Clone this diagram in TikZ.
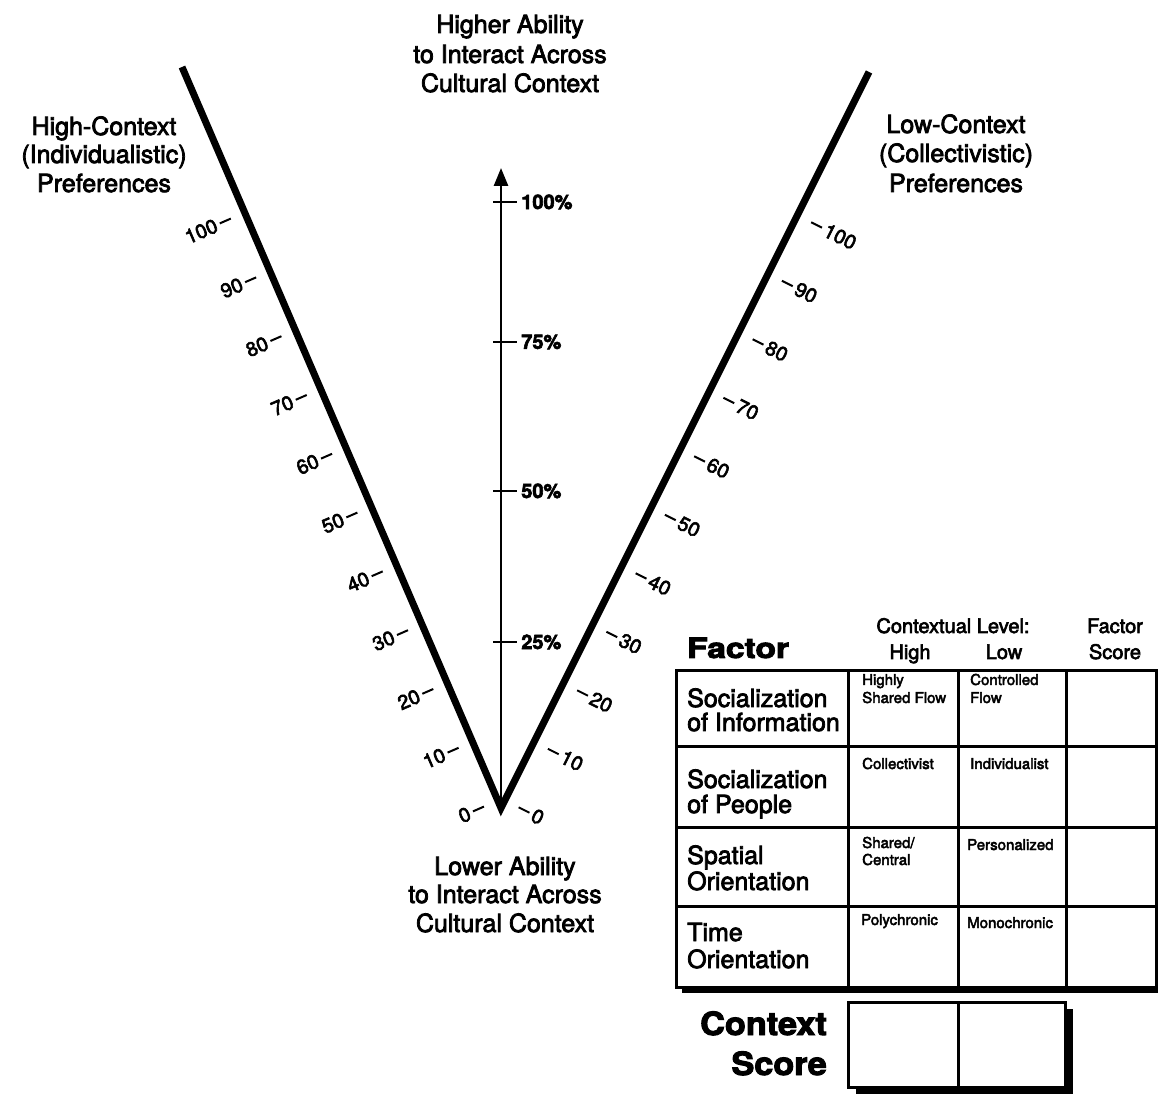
\documentclass[tikz,border=0pt]{standalone}
\usepackage{fontspec}
\setmainfont{TeX Gyre Heros}
\newfontfamily\medfont{TeX Gyre Heros}[FakeBold=3]
\newfontfamily\heavyfont{TeX Gyre Heros}[FakeBold=3]
\usetikzlibrary{arrows.meta,calc}
\begin{document}
\begin{tikzpicture}[x=1pt,y=1pt,
  arm/.style={line width=7pt,line join=miter,miter limit=10},
  axisline/.style={line width=2.6pt},
  armtick/.style={line width=2pt},
  axtick/.style={line width=2.6pt},
  bigtxt/.style={font=\medfont\fontsize{25}{30}\selectfont, anchor=base, inner sep=0pt},
  ticklbl/.style={font=\medfont\fontsize{20}{20}\selectfont, inner sep=0pt},
  pctlbl/.style={font=\heavyfont\bfseries\fontsize{20}{20}\selectfont, anchor=west, inner sep=0pt},
  gridline/.style={line width=3pt},
  rowlbl/.style={font=\medfont\fontsize{25}{25}\selectfont, anchor=base west, inner sep=0pt},
  celltxt/.style={font=\medfont\fontsize{15}{15}\selectfont, anchor=base west, inner sep=0pt},
  headtxt/.style={font=\medfont\fontsize{20}{20}\selectfont, anchor=base, inner sep=0pt},
  heavytxt/.style={font=\heavyfont\bfseries\fontsize{32}{32}\selectfont, inner sep=0pt}
]
\useasboundingbox (0,0) rectangle (1158,1095);
\fill[white] (0,0) rectangle (1158,1095);

% ---- V chart ----
\coordinate (V) at (501,287);
\coordinate (L) at (182,1028);
\coordinate (R) at (869,1023);
\coordinate (Atip) at (501,927);
\draw[axisline,-{Triangle[length=18pt,width=14pt]}] (V) -- (Atip);
\draw[arm] (L) -- (V) -- (R);

% axis ticks
\foreach \p/\Y in {100/893,75/753,50/604,25/453} {
  \draw[axtick] (493,\Y) -- (517,\Y) node[pctlbl, xshift=3pt] (pct\p) {\p\%};
}

% left arm ticks
\foreach \k in {0,10,...,100} {
  \pgfmathsetmacro\Yt{286+5.88*\k}
  \pgfmathsetmacro\Xc{501-0.4305*(\Yt-287)-23}
  \coordinate (lt\k) at (\Xc,\Yt);
  \draw[armtick] ($(lt\k)+(-5.5,-2.4)$) -- ($(lt\k)+(5.5,2.4)$);
  \node[ticklbl, anchor=east, rotate=23.3] (ll\k) at ($(lt\k)+(-8.5,-3.7)$) {\k};
}

% right arm ticks
\foreach \k in {0,10,...,100} {
  \pgfmathsetmacro\Yt{285+5.85*\k}
  \pgfmathsetmacro\Xc{501+0.5*(\Yt-287)+24}
  \coordinate (rt\k) at (\Xc,\Yt);
  \draw[armtick] ($(rt\k)+(-5.4,2.7)$) -- ($(rt\k)+(5.4,-2.7)$);
  \node[ticklbl, anchor=west, rotate=-26.6] (rl\k) at ($(rt\k)+(8.5,-4.2)$) {\k};
}

% big labels
\node[bigtxt] (t1) at (510,1062) {Higher Ability};
\node[bigtxt] (t2) at (510,1032) {to Interact Across};
\node[bigtxt] (t3) at (510,1003) {Cultural Context};

\node[bigtxt] (hl1) at (104,960) {High-Context};
\node[bigtxt] (hl2) at (104,932) {(Individualistic)};
\node[bigtxt] (hl3) at (104,903) {Preferences};

\node[bigtxt] (lr1) at (956,962) {Low-Context};
\node[bigtxt] (lr2) at (956,933) {(Collectivistic)};
\node[bigtxt] (lr3) at (956,903) {Preferences};

\node[bigtxt] (b1) at (505,220) {Lower Ability};
\node[bigtxt] (b2) at (505,192) {to Interact Across};
\node[bigtxt] (b3) at (505,163) {Cultural Context};

% ---- table ----
\fill[black] (681.5,102) rectangle (1163,419);
\fill[white] (676.5,108) rectangle (1156,424);
\draw[gridline] (676.5,108) rectangle (1156,424);
\foreach \x in {848,958,1066} \draw[gridline] (\x,108) -- (\x,424);
\foreach \y in {348,268,189} \draw[gridline] (676.5,\y) -- (1156,\y);

% context score box
\fill[black] (856,1) rectangle (1073,86);
\fill[white] (848,8) rectangle (1065,93);
\draw[gridline] (848,8) rectangle (1065,93);
\draw[gridline] (958,8) -- (958,93);

% header
\node[font=\heavyfont\bfseries\fontsize{28}{28}\selectfont, inner sep=0pt, anchor=base west] (factor) at (687,437) {\scalebox{1.2}[1]{Factor}};
\node[headtxt] (cl) at (953,462) {Contextual Level:};
\node[headtxt] (hi) at (910,436) {High};
\node[headtxt] (lo) at (1004,436) {Low};
\node[headtxt] (fs1) at (1115,462) {Factor};
\node[headtxt] (fs2) at (1115,436) {Score};

% row labels
\node[rowlbl] (r1a) at (687,388) {Socialization};
\node[rowlbl] (r1b) at (687,364) {of Information};
\node[rowlbl] (r2a) at (687,307) {Socialization};
\node[rowlbl] (r2b) at (687,282) {of People};
\node[rowlbl] (r3a) at (687,231) {Spatial};
\node[rowlbl] (r3b) at (687,205) {Orientation};
\node[rowlbl] (r4a) at (687,154) {Time};
\node[rowlbl] (r4b) at (687,127) {Orientation};

% cell texts
\node[celltxt] (c11a) at (862,410) {Highly};
\node[celltxt] (c11b) at (862,392) {Shared Flow};
\node[celltxt] (c12a) at (970,410) {Controlled};
\node[celltxt] (c12b) at (970,392) {Flow};
\node[celltxt] (c21) at (862,326) {Collectivist};
\node[celltxt] (c22) at (970,326) {Individualist};
\node[celltxt] (c31a) at (862,247) {Shared/};
\node[celltxt] (c31b) at (862,230) {Central};
\node[celltxt] (c32) at (967,245) {Personalized};
\node[celltxt] (c41) at (861,170) {Polychronic};
\node[celltxt] (c42) at (967,167) {Monochronic};

% context score
\node[heavytxt, anchor=base east] (cs1) at (827,60) {\scalebox{1.07}[1]{Context}};
\node[heavytxt, anchor=base east] (cs2) at (827,20) {\scalebox{1.07}[1]{Score}};
\end{tikzpicture}
\end{document}
